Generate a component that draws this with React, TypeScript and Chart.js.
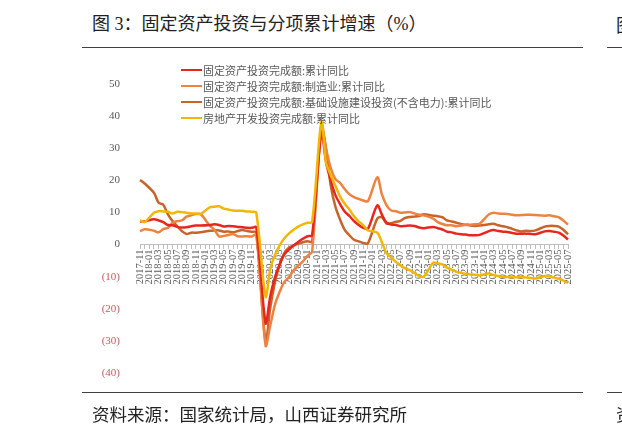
import React from 'react';
import { Chart, registerables } from 'chart.js';

Chart.register(...registerables);

// 月度标签 2017-11 ~ 2025-07
const buildMonths = (): string[] => {
    const out: string[] = [];
    let y = 2017;
    let m = 11;
    while (y < 2025 || (y === 2025 && m <= 7)) {
        out.push(`${y}-${m < 10 ? '0' + m : m}`);
        m++;
        if (m > 12) { m = 1; y++; }
    }
    return out;
};
const months = buildMonths();

// 1月无单月数据, 用 null
const faiTotal = [
    7.2, 7.2,
    null, 7.9, 7.5, 7.0, 6.1, 6.0, 5.5, 5.3, 5.4, 5.7, 5.9, 5.9,
    null, 6.1, 6.3, 6.1, 5.6, 5.8, 5.7, 5.5, 5.4, 5.2, 5.2, 5.4,
    null, -24.5, -16.1, -10.3, -6.3, -3.1, -1.6, -0.3, 0.8, 1.8, 2.6, 2.9,
    null, 35.0, 25.6, 19.9, 15.4, 12.6, 10.3, 8.9, 7.3, 6.1, 5.2, 4.9,
    null, 12.2, 9.3, 6.8, 6.2, 6.1, 5.7, 5.8, 5.9, 5.8, 5.3, 5.1,
    null, 5.5, 5.1, 4.7, 4.0, 3.8, 3.4, 3.2, 3.1, 2.9, 2.9, 3.0,
    null, 4.2, 4.5, 4.2, 4.0, 3.9, 3.6, 3.4, 3.4, 3.4, 3.3, 3.2,
    null, 4.1, 4.2, 4.0, 3.7, 2.8, 1.6,
];

const manufacturing = [
    4.1, 4.8,
    null, 4.3, 3.8, 4.8, 5.2, 6.8, 7.3, 7.5, 8.7, 9.1, 9.5, 9.5,
    null, 5.9, 4.6, 2.5, 2.7, 3.0, 3.3, 2.6, 2.5, 2.6, 2.5, 3.1,
    null, -31.5, -25.2, -18.8, -14.8, -11.7, -10.2, -8.1, -6.5, -5.3, -3.5, -2.2,
    null, 37.3, 29.8, 23.8, 20.4, 19.2, 17.3, 15.7, 14.8, 14.2, 13.7, 13.5,
    null, 20.9, 15.6, 12.2, 10.6, 10.4, 9.9, 10.0, 10.1, 9.7, 9.3, 9.1,
    null, 8.1, 7.0, 6.4, 6.0, 6.0, 5.7, 5.9, 6.2, 6.2, 6.3, 6.5,
    null, 9.4, 9.9, 9.7, 9.6, 9.5, 9.3, 9.1, 9.2, 9.3, 9.3, 9.2,
    null, 9.0, 9.1, 8.8, 8.5, 7.5, 6.2,
];

const infrastructure = [
    20.1, 19.0,
    null, 16.1, 13.0, 12.4, 9.4, 7.3, 5.7, 4.2, 3.3, 3.7, 3.7, 3.8,
    null, 4.3, 4.4, 4.4, 4.0, 4.1, 3.8, 4.2, 4.5, 4.2, 4.0, 3.8,
    null, -30.3, -19.7, -11.8, -6.3, -2.7, -1.0, -0.3, 0.2, 0.7, 1.0, 0.9,
    null, 36.6, 29.7, 18.4, 11.8, 7.8, 4.6, 2.9, 1.5, 1.0, 0.5, 0.4,
    null, 8.1, 8.5, 6.5, 6.7, 7.1, 7.4, 8.3, 8.6, 8.7, 8.9, 9.4,
    null, 9.0, 8.8, 8.5, 7.5, 7.2, 6.8, 6.4, 6.2, 5.9, 5.8, 5.9,
    null, 6.3, 6.5, 6.0, 5.7, 5.4, 4.9, 4.4, 4.1, 4.3, 4.2, 4.4,
    null, 5.6, 5.8, 5.8, 5.6, 4.6, 3.2,
];

const realEstate = [
    7.5, 7.0,
    null, 9.9, 10.4, 10.3, 10.2, 9.7, 10.2, 10.1, 9.9, 9.7, 9.7, 9.5,
    null, 11.6, 11.8, 11.9, 11.2, 10.9, 10.6, 10.5, 10.5, 10.3, 10.2, 9.9,
    null, -16.3, -7.7, -3.3, -0.3, 1.9, 3.4, 4.6, 5.6, 6.3, 6.8, 7.0,
    null, 38.3, 25.6, 21.6, 18.3, 15.0, 12.7, 10.9, 8.8, 7.2, 6.0, 4.4,
    null, 3.7, 0.7, -2.7, -4.0, -5.4, -6.4, -7.4, -8.0, -8.8, -9.8, -10.0,
    null, -5.7, -5.8, -6.2, -7.2, -7.9, -8.5, -8.8, -9.1, -9.3, -9.4, -9.6,
    null, -9.0, -9.5, -9.8, -10.1, -10.1, -10.2, -10.2, -10.1, -10.3, -10.4, -10.6,
    null, -9.8, -9.9, -10.3, -10.7, -11.2, -12.0,
];

const seriesNames = [
    '固定资产投资完成额:累计同比',
    '固定资产投资完成额:制造业:累计同比',
    '固定资产投资完成额:基础设施建设投资(不含电力):累计同比',
    '房地产开发投资完成额:累计同比',
];
const seriesData = [faiTotal, manufacturing, infrastructure, realEstate];
const seriesColors = ['#E8261F', '#EE8340', '#C8642A', '#F2B705'];
const seriesOrder = [1, 2, 3, 0];

const serif = '"Liberation Serif", "Noto Sans CJK SC", serif';
const cjk = '"Noto Sans CJK SC", sans-serif';

const LineChart: React.FC = () => {
    const chartRef = React.useRef<HTMLCanvasElement>(null);
    const chartInstance = React.useRef<Chart | null>(null);

    React.useEffect(() => {
        if (!chartRef.current) return;
        const ctx = chartRef.current.getContext('2d');
        if (!ctx) return;
        if (chartInstance.current) chartInstance.current.destroy();

        chartInstance.current = new Chart(ctx, {
            type: 'line',
            data: {
                labels: months,
                datasets: seriesNames.map((name, i) => ({
                    label: name,
                    data: seriesData[i],
                    borderColor: seriesColors[i],
                    backgroundColor: seriesColors[i],
                    borderWidth: 2.5,
                    pointRadius: 0,
                    tension: 0.3,
                    spanGaps: true,
                    order: seriesOrder[i],
                })),
            },
            options: {
                animation: false,
                responsive: false,
                layout: { padding: { left: 100, right: 54, top: 84, bottom: 64 } },
                plugins: { legend: { display: false }, tooltip: { enabled: false } },
                scales: {
                    x: {
                        type: 'category',
                        position: { y: 0 },
                        grid: { drawOnChartArea: false, drawTicks: true, tickLength: 4, color: '#bfbfbf' },
                        border: { display: true, color: '#bfbfbf' },
                        ticks: {
                            autoSkip: false,
                            minRotation: 90,
                            maxRotation: 90,
                            padding: 1,
                            color: '#595959',
                            font: { family: serif, size: 10.5 },
                            callback: (_v, index) => (index % 2 === 0 ? months[index] : ''),
                        },
                    },
                    y: {
                        min: -40,
                        max: 50,
                        afterFit: (scale) => { scale.width = 40; },
                        grid: { display: false },
                        border: { display: false },
                        ticks: {
                            stepSize: 10,
                            padding: 12,
                            color: (c) => (c.tick.value < 0 ? '#C8585A' : '#595959'),
                            font: { family: serif, size: 11 },
                            callback: (v) => (Number(v) < 0 ? `(${-Number(v)})` : `${v}`),
                        },
                    },
                },
            },
        });

        return () => {
            if (chartInstance.current) {
                chartInstance.current.destroy();
                chartInstance.current = null;
            }
        };
    }, []);

    return <canvas ref={chartRef} width={622} height={437} style={{ position: 'absolute', left: 0, top: 0 }} />;
};

const rule = (left: number, top: number, width: number): React.CSSProperties => ({
    position: 'absolute', left, top, width, height: 1, background: '#404040',
});

export default function App() {
    return (
        <div style={{ position: 'fixed', left: 0, top: 0, width: 622, height: 437, overflow: 'hidden', background: '#fff' }}>
            <div style={{ position: 'absolute', left: 92, top: 12, fontFamily: serif, fontSize: 18, color: '#222', whiteSpace: 'nowrap', lineHeight: '24px' }}>
                图 3：固定资产投资与分项累计增速（%）
            </div>
            <div style={{ position: 'absolute', left: 616, top: 12, fontFamily: cjk, fontSize: 18, color: '#222', lineHeight: '24px' }}>图</div>
            <div style={rule(82, 47, 501)} />
            <div style={rule(607, 47, 20)} />

            <LineChart />

            <div style={{ position: 'absolute', left: 181, top: 62 }}>
                {seriesNames.map((name, i) => (
                    <div key={name} style={{ display: 'flex', alignItems: 'center', height: 16 }}>
                        <span style={{ display: 'inline-block', width: 21, height: 2.5, background: seriesColors[i], marginRight: 1 }} />
                        <span style={{ fontFamily: cjk, fontSize: 11, color: '#595959', whiteSpace: 'nowrap' }}>{name}</span>
                    </div>
                ))}
            </div>

            <div style={rule(82, 392, 501)} />
            <div style={rule(607, 392, 20)} />
            <div style={{ position: 'absolute', left: 92, top: 402, fontFamily: cjk, fontSize: 17.5, color: '#222', whiteSpace: 'nowrap', lineHeight: '24px' }}>
                资料来源：国家统计局，山西证券研究所
            </div>
            <div style={{ position: 'absolute', left: 616, top: 402, fontFamily: cjk, fontSize: 17.5, color: '#222', lineHeight: '24px' }}>资</div>
        </div>
    );
}
